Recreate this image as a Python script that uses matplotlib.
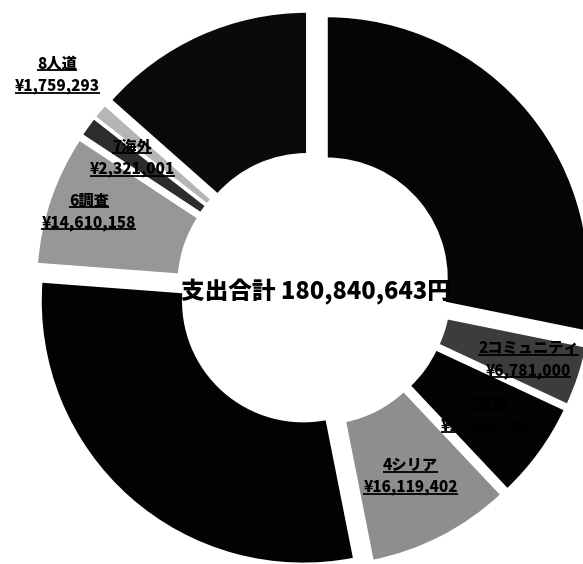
import numpy as np
import matplotlib.pyplot as plt

plt.rcParams['font.family'] = ['Noto Sans CJK JP', 'DejaVu Sans']

# expense breakdown (yen), clockwise from 12 o'clock
names = ['1事業', '2コミュニティ', '3支援', '4シリア', '5事業', '6調査', '7海外', '8人道', '9管理']
amounts = [50986000, 6781000, 10902000, 16119402, 53000000, 14610158, 2321001, 1759293, 24361789]
total_label = '支出合計 180,840,643円'

colors = ['#050505', '#3c3c3c', '#030303', '#8e8e8e', '#020202',
          '#979797', '#2c2c2c', '#b5b5b5', '#0a0a0a']
show_label = [False, True, True, True, False, True, True, True, False]
label_r = [0, 226, 215, 211, 0, 238, 224, 334, 0]

W, H = 583, 564
cx, cy = 314, H - 289
R, ring = 263, 143
expl = 16  # pie explode is in data units

fig = plt.figure(figsize=(W / 100, H / 100), dpi=100)
ax = fig.add_axes([0, 0, 1, 1])

wedges, _ = ax.pie(amounts, colors=colors, startangle=90, counterclock=False,
                   radius=R, center=(cx, cy), explode=[expl] * len(amounts),
                   wedgeprops=dict(width=ring, edgecolor='white', linewidth=2))

ax.set_xlim(0, W)
ax.set_ylim(0, H)
ax.set_aspect('equal')
ax.axis('off')

# centre text
ax.text(cx + 2, cy - 3, total_label, ha='center', va='center',
        fontsize=17, fontweight='heavy', color='black')

# data labels (name + amount, underlined)
underlined = []
for w, name, amt, show, lr in zip(wedges, names, amounts, show_label, label_r):
    if not show:
        continue
    mid = np.deg2rad((w.theta1 + w.theta2) / 2)
    lx = cx + lr * np.cos(mid)
    ly = cy + lr * np.sin(mid)
    t1 = ax.text(lx, ly + 11, name, ha='center', va='center',
                 fontsize=11, fontweight='heavy', color='black')
    t2 = ax.text(lx, ly - 11, f'¥{amt:,}', ha='center', va='center',
                 fontsize=11, fontweight='heavy', color='black')
    underlined += [t1, t2]

fig.canvas.draw()
rend = fig.canvas.get_renderer()
for t in underlined:
    bb = t.get_window_extent(rend).transformed(ax.transData.inverted())
    ax.plot([bb.x0, bb.x1], [bb.y0 + 1.5, bb.y0 + 1.5], color='black',
            lw=1.3, solid_capstyle='butt')

fig.savefig('out.png', dpi=100)
